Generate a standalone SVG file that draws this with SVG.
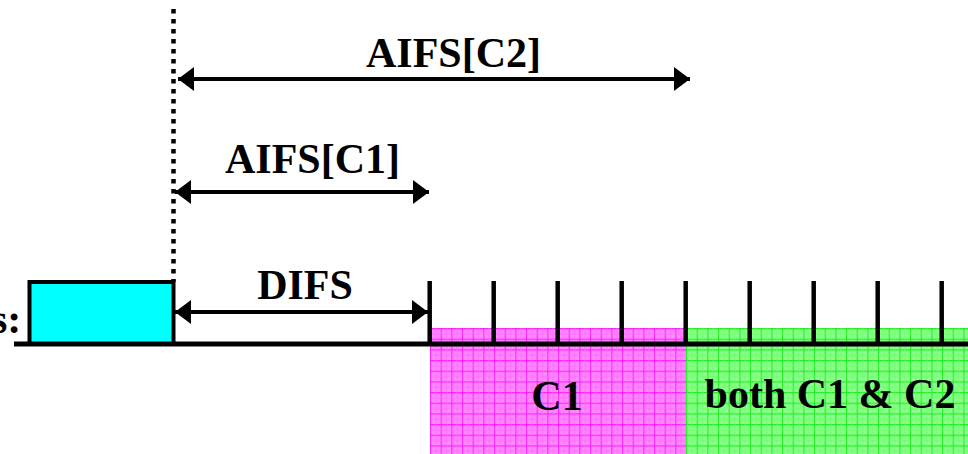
<svg xmlns="http://www.w3.org/2000/svg" width="968" height="454" viewBox="0 0 968 454">
<style>
.t{font-family:"Liberation Serif","Times New Roman",serif;font-weight:bold;font-size:42px;fill:#000}
.ln{stroke:#000;stroke-width:4;fill:none}
.tick{stroke:#000;stroke-width:4.5}
</style>
<defs>
<pattern id="pinkGrid" patternUnits="userSpaceOnUse" x="430" y="328" width="10.667" height="10.667">
<rect width="10.667" height="10.667" fill="#ff88ff"/>
<path d="M0.5 0V10.667M0 0.5H10.667" stroke="#ff22ff" stroke-width="1.2"/>
<path d="M5.83 0V10.667M0 5.83H10.667" stroke="#ff66ff" stroke-width="0.8"/>
</pattern>
<pattern id="greenGrid" patternUnits="userSpaceOnUse" x="430" y="328" width="10.667" height="10.667">
<rect width="10.667" height="10.667" fill="#88ff88"/>
<path d="M0.5 0V10.667M0 0.5H10.667" stroke="#22ee22" stroke-width="1.2"/>
<path d="M5.83 0V10.667M0 5.83H10.667" stroke="#66ff66" stroke-width="0.8"/>
</pattern>
<marker id="ah" viewBox="0 0 16 24" refX="16" refY="12" markerWidth="16" markerHeight="24" markerUnits="userSpaceOnUse" orient="auto-start-reverse">
<path d="M0 0L16 12L0 24Z" fill="#000"/>
</marker>
</defs>
<g id="regions">
<rect id="region-c1" x="430" y="328" width="256" height="126" fill="url(#pinkGrid)"/>
<rect id="region-both" x="686" y="328" width="282" height="126" fill="url(#greenGrid)"/>
<text class="t" x="557" y="410" text-anchor="middle">C1</text>
<text class="t" x="830" y="408" text-anchor="middle">both C1 &amp; C2</text>
</g>
<g id="busy">
<rect x="29.5" y="282" width="144" height="62" fill="#00ffff" stroke="#000" stroke-width="4"/>
<text class="t" x="-9" y="333">s:</text>
</g>
<g id="timeline">
<line x1="14" y1="344" x2="968" y2="344" stroke="#000" stroke-width="5"/>
<line class="tick" x1="429.7" y1="281" x2="429.7" y2="344"/>
<line class="tick" x1="493.7" y1="281" x2="493.7" y2="344"/>
<line class="tick" x1="557.7" y1="281" x2="557.7" y2="344"/>
<line class="tick" x1="621.7" y1="281" x2="621.7" y2="344"/>
<line class="tick" x1="685.7" y1="281" x2="685.7" y2="344"/>
<line class="tick" x1="749.7" y1="281" x2="749.7" y2="344"/>
<line class="tick" x1="813.7" y1="281" x2="813.7" y2="344"/>
<line class="tick" x1="877.7" y1="281" x2="877.7" y2="344"/>
<line class="tick" x1="941.7" y1="281" x2="941.7" y2="344"/>
</g>
<g id="connectors">
<line x1="173.5" y1="9" x2="173.5" y2="282" stroke="#000" stroke-width="4.5" stroke-dasharray="4.5 5.5"/>
<line class="ln" x1="178" y1="79" x2="690" y2="79" marker-start="url(#ah)" marker-end="url(#ah)"/>
<line class="ln" x1="175" y1="192" x2="429" y2="192" marker-start="url(#ah)" marker-end="url(#ah)"/>
<line class="ln" x1="175" y1="312" x2="428" y2="312" marker-start="url(#ah)" marker-end="url(#ah)"/>
</g>
<g id="labels">
<text class="t" x="453.5" y="67" text-anchor="middle">AIFS[C2]</text>
<text class="t" x="312.5" y="173" text-anchor="middle">AIFS[C1]</text>
<text class="t" x="305" y="299" text-anchor="middle">DIFS</text>
</g>
</svg>
